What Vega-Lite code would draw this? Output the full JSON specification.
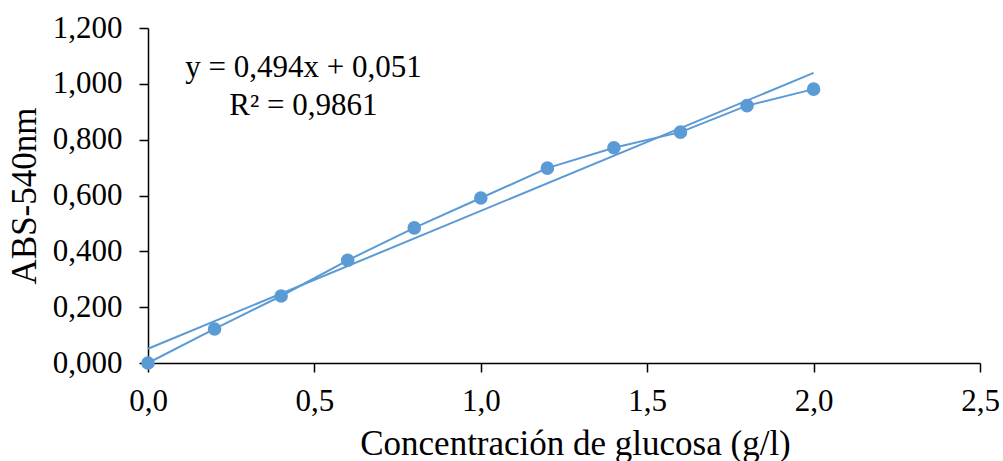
{
  "$schema": "https://vega.github.io/schema/vega-lite/v6.json",
  "autosize": "none",
  "width": 832,
  "height": 335,
  "padding": {"left": 148, "top": 28, "right": 23, "bottom": 98},
  "background": "white",
  "config": {
    "view": {"stroke": null},
    "font": "Liberation Serif",
    "axis": {
      "grid": false,
      "domainColor": "black",
      "tickColor": "black",
      "domainWidth": 1.5,
      "tickWidth": 1.5,
      "tickSize": 9,
      "labelFont": "Liberation Serif",
      "titleFont": "Liberation Serif",
      "labelFontSize": 31,
      "titleFontSize": 35,
      "labelColor": "black",
      "titleColor": "black",
      "titleFontWeight": "normal",
      "labelFlush": false
    }
  },
  "datasets": {
    "obs": [
      {"conc": 0.0, "abs": 0.0},
      {"conc": 0.2, "abs": 0.122},
      {"conc": 0.4, "abs": 0.240},
      {"conc": 0.6, "abs": 0.368},
      {"conc": 0.8, "abs": 0.484},
      {"conc": 1.0, "abs": 0.591},
      {"conc": 1.2, "abs": 0.698},
      {"conc": 1.4, "abs": 0.771},
      {"conc": 1.6, "abs": 0.827},
      {"conc": 1.8, "abs": 0.922},
      {"conc": 2.0, "abs": 0.981}
    ],
    "trend": [
      {"conc": 0.0, "abs": 0.051},
      {"conc": 2.0, "abs": 1.039}
    ],
    "labels": [
      {"conc": 0.467, "abs": 1.0245, "text": "y = 0,494x + 0,051"},
      {"conc": 0.467, "abs": 0.888, "text": "R² = 0,9861"}
    ]
  },
  "layer": [
    {
      "data": {"name": "obs"},
      "mark": {"type": "line", "color": "#5B9BD5", "strokeWidth": 2},
      "encoding": {
        "x": {
          "field": "conc", "type": "quantitative",
          "scale": {"domain": [0, 2.5], "nice": false},
          "axis": {
            "values": [0, 0.5, 1, 1.5, 2, 2.5],
            "labelExpr": "replace(format(datum.value, '.1f'), '.', ',')",
            "title": "Concentración de glucosa (g/l)",
            "labelPadding": 14,
            "titlePadding": 10,
            "titleX": 427,
            "titleAlign": "center"
          }
        },
        "y": {
          "field": "abs", "type": "quantitative",
          "scale": {"domain": [0, 1.2], "nice": false},
          "axis": {
            "values": [0, 0.2, 0.4, 0.6, 0.8, 1.0, 1.2],
            "labelExpr": "replace(format(datum.value, '.3f'), '.', ',')",
            "title": "ABS-540nm",
            "labelPadding": 17,
            "titlePadding": 10
          }
        }
      }
    },
    {
      "data": {"name": "obs"},
      "mark": {"type": "point", "filled": true, "size": 185, "color": "#5B9BD5", "opacity": 1},
      "encoding": {
        "x": {"field": "conc", "type": "quantitative"},
        "y": {"field": "abs", "type": "quantitative"}
      }
    },
    {
      "data": {"name": "trend"},
      "mark": {"type": "line", "color": "#5B9BD5", "strokeWidth": 2},
      "encoding": {
        "x": {"field": "conc", "type": "quantitative"},
        "y": {"field": "abs", "type": "quantitative"}
      }
    },
    {
      "data": {"name": "labels"},
      "mark": {"type": "text", "font": "Liberation Serif", "fontSize": 31, "color": "black", "align": "center", "baseline": "alphabetic"},
      "encoding": {
        "x": {"field": "conc", "type": "quantitative"},
        "y": {"field": "abs", "type": "quantitative"},
        "text": {"field": "text"}
      }
    }
  ]
}
